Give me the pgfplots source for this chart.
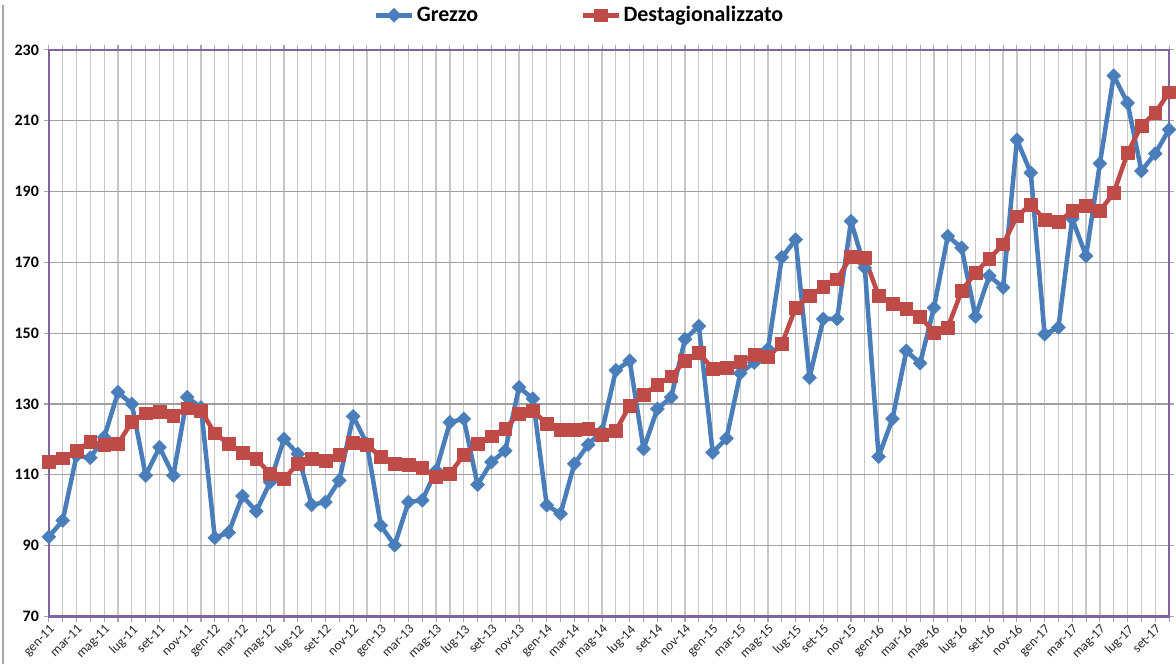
\documentclass[border=0pt]{standalone}
\usepackage{fontspec}
\setmainfont{Carlito}
\usepackage{pgfplots}
\pgfplotsset{compat=1.18}
\definecolor{Grezzo}{HTML}{4A7EBB}
\definecolor{Destag}{HTML}{BE4B48}
\definecolor{Frame}{HTML}{8064A2}

\pgfplotstableread{
i   raw    sa
0   92.5   113.7
1   97.1   114.7
2   115.4  116.8
3   114.8  119.4
4   120.6  118.5
5   133.3  118.7
6   130.0  125.0
7   109.8  127.4
8   117.8  127.7
9   109.8  126.7
10  131.9  128.8
11  129.0  128.1
12  92.2   121.7
13  93.7   118.7
14  104.0  116.2
15  99.7   114.5
16  107.9  110.3
17  120.1  108.9
18  115.9  113.1
19  101.5  114.5
20  102.3  114.0
21  108.4  115.6
22  126.5  119.0
23  118.7  118.5
24  95.7   115.0
25  90.1   113.1
26  102.3  112.8
27  102.8  111.9
28  111.2  109.4
29  124.8  110.3
30  125.8  115.6
31  107.2  118.7
32  113.6  120.9
33  116.8  123.1
34  134.7  127.2
35  131.5  128.1
36  101.4  124.4
37  99.0   122.8
38  113.1  122.8
39  118.5  123.1
40  122.4  121.3
41  139.5  122.5
42  142.2  129.5
43  117.3  132.6
44  128.6  135.4
45  131.9  137.8
46  148.3  142.2
47  152.0  144.5
48  116.3  139.9
49  120.3  140.3
50  138.7  141.9
51  141.7  143.8
52  145.5  143.4
53  171.4  146.9
54  176.4  157.2
55  137.4  160.5
56  154.0  163.1
57  154.0  165.2
58  181.6  171.6
59  168.5  171.3
60  115.1  160.5
61  125.8  158.2
62  145.0  156.8
63  141.5  154.7
64  157.2  150.2
65  177.4  151.6
66  174.1  161.9
67  154.7  167.1
68  166.2  171.0
69  162.9  175.1
70  204.6  183.0
71  195.3  186.3
72  149.7  182.1
73  151.6  181.4
74  182.3  184.5
75  171.8  185.9
76  197.9  184.5
77  222.7  189.6
78  215.0  200.9
79  195.8  208.6
80  200.7  212.2
81  207.5  218.0
}\data

\begin{document}
\begin{tikzpicture}
\begin{axis}[
  name=ax,
  scale only axis,
  width=842.25pt, height=426pt,
  xmin=0, xmax=81, ymin=70, ymax=230,
  xtick={0,2,...,80},
  minor xtick={1,3,...,81},
  xticklabels={gen-11,mar-11,mag-11,lug-11,set-11,nov-11,
               gen-12,mar-12,mag-12,lug-12,set-12,nov-12,
               gen-13,mar-13,mag-13,lug-13,set-13,nov-13,
               gen-14,mar-14,mag-14,lug-14,set-14,nov-14,
               gen-15,mar-15,mag-15,lug-15,set-15,nov-15,
               gen-16,mar-16,mag-16,lug-16,set-16,nov-16,
               gen-17,mar-17,mag-17,lug-17,set-17},
  ytick={70,90,...,230},
  tick align=outside,
  major tick length=4pt, minor tick length=4pt,
  tick style={draw=gray!70, line width=0.8pt},
  xmajorgrids, xminorgrids, ymajorgrids,
  x grid style={draw=black!22, line width=0.9pt},
  minor grid style={draw=black!22, line width=0.9pt},
  y grid style={draw=black!38, line width=0.9pt},
  axis line style={draw=Frame, line width=1.6pt},
  /pgf/number format/assume math mode=true,
  xticklabel style={rotate=45, anchor=north east, inner sep=1pt,
    font=\fontsize{10}{10}\selectfont, text=black!85},
  yticklabel style={font=\bfseries\fontsize{12}{12}\selectfont},
  legend columns=2,
  legend style={draw=none, fill=none, at={(0.474,1)}, anchor=center,
    yshift=26pt, font=\bfseries\fontsize{16.5}{16.5}\selectfont,
    /tikz/every even column/.append style={column sep=75pt},
    inner sep=0pt},
  legend image code/.code={%
    \draw[mark repeat=2, mark phase=2]
      plot coordinates {(0pt,0pt) (13.5pt,0pt) (27pt,0pt)};},
]
\addplot[Grezzo, line width=3.4pt, line join=round, mark=square*,
  mark size=3.7pt, mark options={rotate=45, line width=0.4pt, fill=Grezzo}]
  table[x=i, y=raw] {\data};
\addlegendentry{Grezzo}
\addplot[Destag, line width=3.4pt, line join=round, mark=square*,
  mark size=4.8pt, mark options={line width=0.4pt, fill=Destag}]
  table[x=i, y=sa] {\data};
\addlegendentry{Destagionalizzato}
\end{axis}
\draw[black!35, line width=0.8pt] ([xshift=-34.5pt]ax.south west |- 0,-36pt)
  -- ([xshift=-34.5pt]ax.north west |- 0,460pt);
\path ([xshift=-36.75pt, yshift=-36pt]ax.south west)
  rectangle ([xshift=3pt, yshift=37.5pt]ax.north east);
\end{tikzpicture}
\end{document}
